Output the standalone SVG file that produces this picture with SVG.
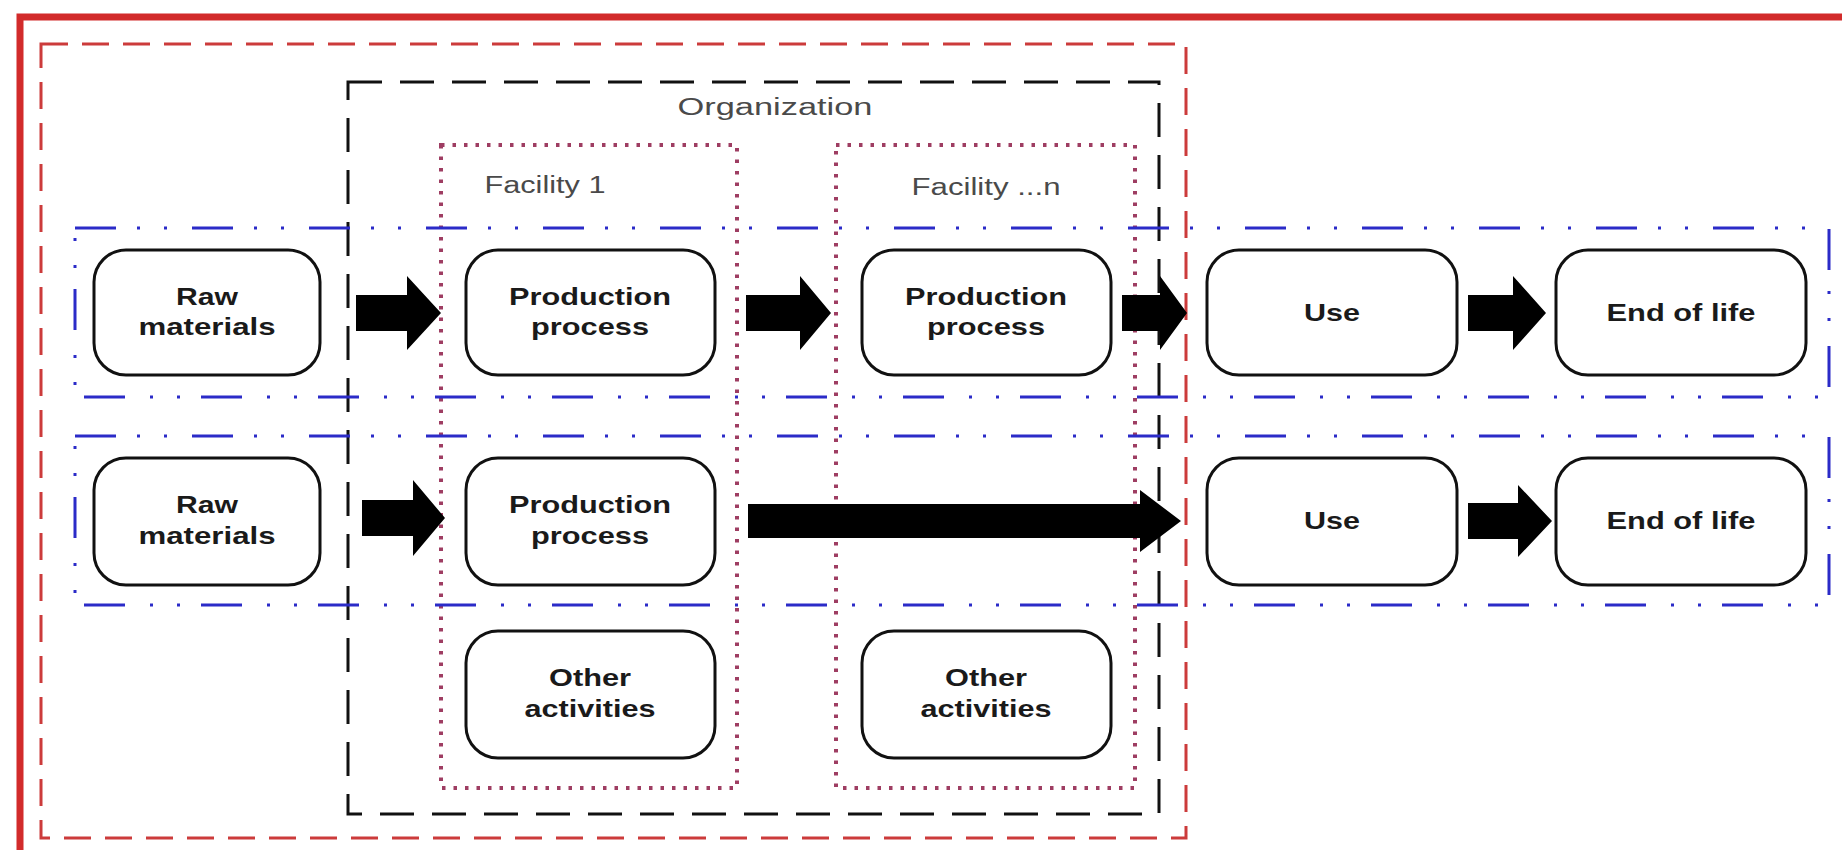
<svg xmlns="http://www.w3.org/2000/svg" width="1842" height="850" viewBox="0 0 1842 850">
<style>
.frame{fill:none;stroke:#d22b2b;stroke-width:7}
.scope{fill:none;stroke:#cc3b3b;stroke-width:3;stroke-dasharray:27 14}
.org{fill:none;stroke:#111;stroke-width:3;stroke-dasharray:34 18}
.fac{fill:none;stroke:#9e3d62;stroke-width:4;stroke-dasharray:3.5 8;stroke-linecap:butt}
.chain{fill:none;stroke:#2b2bc8;stroke-width:3;stroke-dasharray:41 21 3 24 3 25}
.node rect{fill:#fff;stroke:#111;stroke-width:3}
.t{font-family:"Liberation Sans",Arial,sans-serif;font-weight:bold;font-size:24px;fill:#1a1a1a;text-anchor:middle}
.lbl{font-family:"Liberation Sans",Arial,sans-serif;font-size:23px;fill:#4a4a4a;text-anchor:middle}
.arrow{fill:#000}
</style>
<rect width="1842" height="850" fill="#fff"/>
<g id="boundaries">
<rect class="frame" x="20" y="17" width="1850" height="860"/>
<rect class="scope" x="41" y="44" width="1145" height="794"/>
<rect class="org" x="348" y="82" width="811" height="732"/>
<rect class="fac" x="441" y="145" width="296" height="643"/>
<rect class="fac" x="836" y="145" width="299" height="643"/>
<rect class="chain" x="75" y="228" width="1754" height="169"/>
<rect class="chain" x="75" y="436" width="1754" height="169"/>
<text class="lbl" x="775" y="115" font-size="25" textLength="195" lengthAdjust="spacingAndGlyphs">Organization</text>
<text class="lbl" x="545" y="193" textLength="121" lengthAdjust="spacingAndGlyphs">Facility 1</text>
<text class="lbl" x="986" y="195" textLength="149" lengthAdjust="spacingAndGlyphs">Facility ...n</text>
</g>
<g id="connectors">
<path class="arrow" d="M356,295 L407,295 L407,276 L441,313 L407,350 L407,331 L356,331 Z"/>
<path class="arrow" d="M746,295 L800,295 L800,276 L831,313 L800,350 L800,331 L746,331 Z"/>
<path class="arrow" d="M1122,295 L1160,295 L1160,276 L1187,313 L1160,350 L1160,331 L1122,331 Z"/>
<path class="arrow" d="M1468,295 L1513,295 L1513,276 L1546,313 L1513,350 L1513,331 L1468,331 Z"/>
<path class="arrow" d="M362,500 L413,500 L413,480 L445,518 L413,556 L413,536 L362,536 Z"/>
<path class="arrow" d="M748,504 L1140,504 L1140,490 L1181,521 L1140,552 L1140,538 L748,538 Z"/>
<path class="arrow" d="M1468,503 L1518,503 L1518,485 L1552,521 L1518,557 L1518,539 L1468,539 Z"/>
</g>
<g id="raw1" class="node"><rect x="94" y="250" width="226" height="125" rx="32"/>
<text class="t" x="207" y="305" textLength="62" lengthAdjust="spacingAndGlyphs">Raw</text>
<text class="t" x="207" y="335" textLength="137" lengthAdjust="spacingAndGlyphs">materials</text></g>
<g id="prod1" class="node"><rect x="466" y="250" width="249" height="125" rx="32"/>
<text class="t" x="590" y="305" textLength="162" lengthAdjust="spacingAndGlyphs">Production</text>
<text class="t" x="590" y="335" textLength="118" lengthAdjust="spacingAndGlyphs">process</text></g>
<g id="prodn" class="node"><rect x="862" y="250" width="249" height="125" rx="32"/>
<text class="t" x="986" y="305" textLength="162" lengthAdjust="spacingAndGlyphs">Production</text>
<text class="t" x="986" y="335" textLength="118" lengthAdjust="spacingAndGlyphs">process</text></g>
<g id="use1" class="node"><rect x="1207" y="250" width="250" height="125" rx="32"/>
<text class="t" x="1332" y="321" textLength="56" lengthAdjust="spacingAndGlyphs">Use</text></g>
<g id="eol1" class="node"><rect x="1556" y="250" width="250" height="125" rx="32"/>
<text class="t" x="1681" y="321" textLength="149" lengthAdjust="spacingAndGlyphs">End of life</text></g>
<g id="raw2" class="node"><rect x="94" y="458" width="226" height="127" rx="32"/>
<text class="t" x="207" y="513" textLength="62" lengthAdjust="spacingAndGlyphs">Raw</text>
<text class="t" x="207" y="544" textLength="137" lengthAdjust="spacingAndGlyphs">materials</text></g>
<g id="prod2" class="node"><rect x="466" y="458" width="249" height="127" rx="32"/>
<text class="t" x="590" y="513" textLength="162" lengthAdjust="spacingAndGlyphs">Production</text>
<text class="t" x="590" y="544" textLength="118" lengthAdjust="spacingAndGlyphs">process</text></g>
<g id="use2" class="node"><rect x="1207" y="458" width="250" height="127" rx="32"/>
<text class="t" x="1332" y="529" textLength="56" lengthAdjust="spacingAndGlyphs">Use</text></g>
<g id="eol2" class="node"><rect x="1556" y="458" width="250" height="127" rx="32"/>
<text class="t" x="1681" y="529" textLength="149" lengthAdjust="spacingAndGlyphs">End of life</text></g>
<g id="other1" class="node"><rect x="466" y="631" width="249" height="127" rx="32"/>
<text class="t" x="590" y="686" textLength="82" lengthAdjust="spacingAndGlyphs">Other</text>
<text class="t" x="590" y="717" textLength="131" lengthAdjust="spacingAndGlyphs">activities</text></g>
<g id="othern" class="node"><rect x="862" y="631" width="249" height="127" rx="32"/>
<text class="t" x="986" y="686" textLength="82" lengthAdjust="spacingAndGlyphs">Other</text>
<text class="t" x="986" y="717" textLength="131" lengthAdjust="spacingAndGlyphs">activities</text></g>
</svg>
